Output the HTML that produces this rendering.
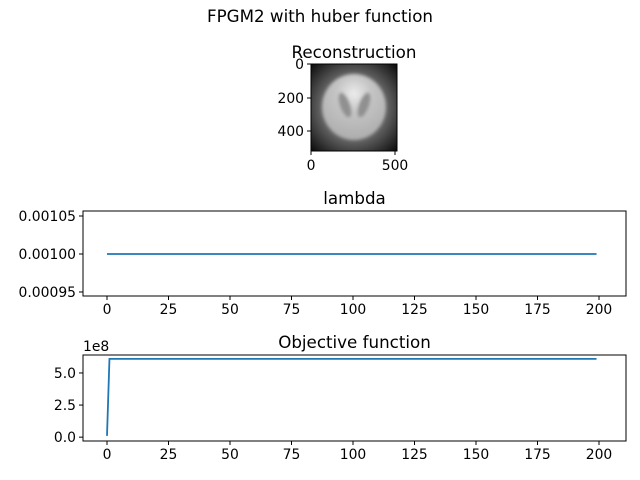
<!DOCTYPE html>
<html><head><meta charset="utf-8"><style>
body{margin:0;background:#fff}
svg{display:block;font-family:"DejaVu Sans","Liberation Sans",sans-serif}
</style></head><body>
<svg width="640" height="480" viewBox="0 0 640 480">
<defs>
<radialGradient id="bg" cx="0.5" cy="0.5" r="0.72">
<stop offset="0" stop-color="#a0a0a0"/><stop offset="0.55" stop-color="#606060"/><stop offset="1" stop-color="#050505"/>
</radialGradient>
<radialGradient id="disk" cx="0.5" cy="0.3" r="0.7">
<stop offset="0" stop-color="#ececec"/><stop offset="0.4" stop-color="#c4c4c4"/><stop offset="1" stop-color="#adadad"/>
</radialGradient>
<filter id="blur"><feGaussianBlur stdDeviation="1.5"/></filter>
</defs>
<text x="320" y="22" text-anchor="middle" font-size="16.7">FPGM2 with huber function</text>
<g>
<text x="354" y="58" text-anchor="middle" font-size="16.7">Reconstruction</text>
<rect x="311" y="64" width="86" height="87" fill="url(#bg)"/>
<g filter="url(#blur)">
<ellipse cx="354" cy="107" rx="32" ry="33" fill="url(#disk)"/>
<ellipse cx="345" cy="105" rx="5" ry="13" transform="rotate(-20 345 105)" fill="#909090"/>
<ellipse cx="364" cy="105" rx="5" ry="13" transform="rotate(20 364 105)" fill="#909090"/>
</g>
<rect x="311" y="64" width="86" height="87" fill="none" stroke="#000" stroke-width="1"/>
<g stroke="#000">
<line x1="311" y1="64" x2="307" y2="64"/><line x1="311" y1="98" x2="307" y2="98"/><line x1="311" y1="131" x2="307" y2="131"/>
<line x1="311" y1="151" x2="311" y2="155"/><line x1="395" y1="151" x2="395" y2="155"/>
</g>
<g font-size="13.9">
<text x="304" y="69" text-anchor="end">0</text><text x="304" y="103" text-anchor="end">200</text><text x="304" y="136" text-anchor="end">400</text>
<text x="311" y="170" text-anchor="middle">0</text><text x="395" y="170" text-anchor="middle">500</text>
</g>
</g>
<g id="lam"></g>
<g id="obj"></g>
<script>
const iters = Array.from({length:200},(_, i)=>i);
const lambdaVals = Array(200).fill(0.001);
const objVals = [0.1e8].concat(Array(199).fill(6.1e8));
const xTicks = [0,25,50,75,100,125,150,175,200];
const lamTicks = [0.00095,0.00100,0.00105];
const lamTickLabels = ["0.00095","0.00100","0.00105"];
const objTicks = [0,2.5e8,5e8];
const objTickLabels = ["0.0","2.5","5.0"];
const NS="http://www.w3.org/2000/svg";
function mk(p,tag,a){const e=document.createElementNS(NS,tag);for(const k in a)e.setAttribute(k,a[k]);p.appendChild(e);return e;}
function chart(g,L,R,T,B,ymin,ymax,ys,yt,ytl,title,extra){
  const xs=v=>107+(v/200)*(599-107);
  const yy=v=>B-(v-ymin)/(ymax-ymin)*(B-T);
  const t=mk(g,'text',{x:(L+R)/2,y:T-7,'text-anchor':'middle','font-size':16.7});t.textContent=title;
  
  
  let d='';iters.forEach((x,i)=>{d+=(i?'L':'M')+xs(x).toFixed(2)+' '+yy(ys[i]).toFixed(2);});
  const p=mk(g,'path',{d:d,fill:'none',stroke:'#1f77b4','stroke-width':1.8});
  
  
  mk(g,'rect',{x:L,y:T,width:R-L,height:B-T,fill:'none',stroke:'#000','stroke-width':1});
  xTicks.forEach(v=>{mk(g,'line',{x1:xs(v),x2:xs(v),y1:B,y2:B+4,stroke:'#000'});
    const tx=mk(g,'text',{x:xs(v),y:B+18,'text-anchor':'middle','font-size':13.9});tx.textContent=v;
    
    });
  yt.forEach((v,i)=>{mk(g,'line',{x1:L,x2:L-4,y1:yy(v),y2:yy(v),stroke:'#000'});
    const tx=mk(g,'text',{x:L-7,y:yy(v)+5,'text-anchor':'end','font-size':13.9});tx.textContent=ytl[i];
    
    });
  if(extra){const e=mk(g,'text',{x:L,y:T-4,'font-size':13.9});e.textContent=extra;
    
    }
}
chart(document.getElementById('lam'),83,626,211,296,0.0009447,0.0010566,lambdaVals,lamTicks,lamTickLabels,'lambda');
chart(document.getElementById('obj'),83,626,355,441,-0.3e8,6.4e8,objVals,objTicks,objTickLabels,'Objective function','1e8');
</script>
</svg>
</body></html>
